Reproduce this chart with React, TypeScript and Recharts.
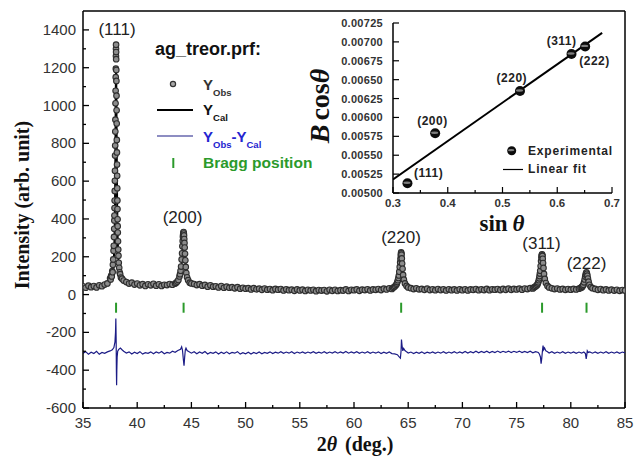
import React from 'react';
import { ComposedChart, Scatter, Line, XAxis, YAxis, ReferenceLine } from 'recharts';

const SANS = '"Liberation Sans", Arial, sans-serif';
const SERIF = '"Liberation Serif", "Times New Roman", serif';

// ---------- main pattern: observed intensity (2theta, counts) ----------
const obsRegion111: [number, number][] = [
  [35.00,44],[35.25,36],[35.50,47],[35.75,39],[36.00,45],[36.25,38],[36.50,49],[36.75,44],[37.00,53],[37.25,59],
  [37.50,86],[37.55,80],[37.60,101],[37.65,96],[37.70,124],[37.73,118],[37.76,158],[37.79,186],[37.82,232],[37.84,258],
  [37.86,305],[37.88,348],[37.89,392],[37.90,418],[37.91,458],[37.92,497],[37.93,548],[37.94,602],[37.95,655],[37.96,735],
  [37.97,788],[37.98,862],[37.99,925],[38.00,1012],[38.01,1078],[38.02,1150],[38.03,1195],[38.04,1262],[38.045,1300],[38.05,1322],
  [38.055,1283],[38.06,1245],[38.07,1188],[38.08,1130],[38.09,1052],[38.10,975],[38.11,905],[38.12,818],[38.13,752],[38.14,688],
  [38.15,628],[38.16,562],[38.17,498],[38.18,452],[38.19,398],[38.20,362],[38.21,328],[38.23,282],[38.25,238],[38.27,206],
  [38.30,168],[38.34,142],[38.38,118],[38.43,108],[38.50,90],[38.60,84],[38.75,74],
  [39.00,66],[39.25,58],[39.50,63],[39.75,53],[40.00,58],[40.25,49],[40.50,55],[40.75,46],[41.00,54],[41.25,49],
  [41.50,57],[41.75,47],[42.00,54],[42.25,46],[42.50,52],[42.75,50],[43.00,56],[43.25,52],
];
const obsRegion200: [number, number][] = [
  [43.50,58],[43.60,62],[43.70,69],[43.80,77],[43.90,96],[43.95,108],[44.00,126],[44.05,148],[44.10,186],[44.14,218],
  [44.17,256],[44.20,284],[44.22,306],[44.24,317],[44.26,327],[44.28,331],[44.30,323],[44.32,313],[44.34,294],[44.36,273],
  [44.38,249],[44.41,216],[44.44,181],[44.48,146],[44.53,114],[44.60,91],[44.70,76],[44.85,63],[45.00,59],
];
const obsMidLow: [number, number][] = [
  [45.25,56],[45.50,50],[45.75,55],[46.00,47],[46.25,51],[46.50,42],[46.75,49],[47.00,42],[47.25,44],[47.50,38],
  [47.75,45],[48.00,36],[48.25,42],[48.50,36],[48.75,39],[49.00,33],[49.25,39],[49.50,31],[49.75,36],[50.00,31],
  [50.25,34],[50.50,27],[50.75,34],[51.00,28],[51.25,31],[51.50,25],[51.75,32],[52.00,26],[52.25,29],[52.50,23],
  [52.75,30],[53.00,26],[53.25,29],[53.50,22],[53.75,28],[54.00,23],[54.25,26],[54.50,20],[54.75,27],[55.00,22],
  [55.25,26],[55.50,19],[55.75,25],[56.00,22],[56.25,25],[56.50,18],[56.75,24],[57.00,21],[57.25,24],[57.50,17],
  [57.75,25],[58.00,20],[58.25,25],[58.50,19],[58.75,23],[59.00,21],[59.25,27],[59.50,19],[59.75,25],[60.00,23],
  [60.25,27],[60.50,20],[60.75,26],[61.00,24],[61.25,28],[61.50,22],[61.75,27],[62.00,25],[62.25,29],[62.50,24],
  [62.75,31],[63.00,27],[63.25,33],[63.50,30],
];
const obsRegion220: [number, number][] = [
  [63.60,36],[63.70,40],[63.80,45],[63.90,52],[63.95,58],[64.00,66],[64.05,76],[64.10,88],[64.14,101],[64.18,121],
  [64.22,146],[64.26,171],[64.29,189],[64.32,207],[64.34,216],[64.35,223],[64.36,218],[64.38,211],[64.41,191],[64.44,164],
  [64.48,136],[64.53,104],[64.60,79],[64.70,59],[64.85,46],[65.00,38],
];
const obsMidHigh: [number, number][] = [
  [65.25,34],[65.50,29],[65.75,33],[66.00,28],[66.25,30],[66.50,25],[66.75,31],[67.00,24],[67.25,28],[67.50,23],
  [67.75,29],[68.00,24],[68.25,28],[68.50,22],[68.75,28],[69.00,23],[69.25,27],[69.50,22],[69.75,28],[70.00,23],
  [70.25,28],[70.50,22],[70.75,27],[71.00,25],[71.25,29],[71.50,23],[71.75,28],[72.00,24],[72.25,30],[72.50,23],
  [72.75,28],[73.00,26],[73.25,29],[73.50,24],[73.75,30],[74.00,25],[74.25,31],[74.50,25],[74.75,30],[75.00,27],
  [75.25,31],[75.50,26],[75.75,32],[76.00,29],[76.25,34],[76.50,32],
];
const obsRegion311: [number, number][] = [
  [76.60,38],[76.70,41],[76.80,46],[76.90,51],[76.95,58],[77.00,65],[77.05,76],[77.09,86],[77.12,98],[77.15,111],
  [77.18,126],[77.22,151],[77.26,177],[77.29,196],[77.32,206],[77.34,210],[77.35,213],[77.37,208],[77.38,204],[77.41,189],
  [77.44,167],[77.48,141],[77.53,109],[77.60,83],[77.70,61],[77.85,46],[78.00,38],
  [78.25,33],[78.50,29],[78.75,32],[79.00,27],[79.25,30],[79.50,25],[79.75,29],[80.00,26],[80.25,30],[80.50,27],[80.75,31],
];
const obsRegion222: [number, number][] = [
  [80.90,35],[81.00,38],[81.05,42],[81.10,46],[81.15,52],[81.22,65],[81.28,80],[81.33,95],[81.37,106],[81.41,114],
  [81.45,117],[81.49,110],[81.53,100],[81.58,85],[81.64,68],[81.72,52],[81.85,40],[82.00,34],
  [82.25,30],[82.50,25],[82.75,29],[83.00,23],[83.25,27],[83.50,22],[83.75,26],[84.00,21],[84.25,25],[84.50,20],[84.75,24],[85.00,21],
];

// ---------- calculated profile ----------
const calcProfile: [number, number][] = [
  [35,37],[36,39],[37,46],[37.5,66],[37.7,100],[37.8,145],[37.85,195],[37.9,285],[37.95,470],[37.98,690],[38.0,870],
  [38.02,1050],[38.04,1165],[38.05,1190],[38.06,1168],[38.08,1045],[38.1,880],[38.12,700],[38.15,480],[38.2,300],[38.25,200],
  [38.3,150],[38.4,105],[38.6,76],[39.0,58],[40,50],[41,46],[42,45],[43,48],[43.5,52],[43.8,68],[44.0,108],[44.1,165],
  [44.2,265],[44.28,318],[44.35,268],[44.45,170],[44.55,110],[44.75,70],[45,55],[46,42],[47,36],[48,32],[50,26],[52,22],
  [55,18],[58,17],[60,18],[62,21],[63.5,27],[63.9,42],[64.1,78],[64.2,112],[64.3,148],[64.35,156],[64.4,146],[64.5,108],
  [64.6,74],[64.8,44],[65.2,30],[66,25],[68,21],[70,20],[72,21],[74,22],[76,25],[76.5,29],[76.9,46],[77.1,84],[77.2,124],
  [77.3,166],[77.35,174],[77.4,164],[77.5,120],[77.6,82],[77.8,48],[78.2,31],[79,25],[80,23],[80.8,26],[81.1,39],[81.25,59],
  [81.35,77],[81.45,84],[81.55,74],[81.65,55],[81.8,38],[82.1,27],[83,22],[85,19],
];

// ---------- difference Yobs - Ycal (offset) ----------
const diffLow: [number, number][] = [
  [35.00,-310],[35.25,-302],[35.50,-315],[35.75,-305],[36.00,-312],[36.25,-300],[36.50,-316],[36.75,-306],[37.00,-311],[37.25,-303],
  [37.50,-298],[37.70,-292],[37.85,-280],[37.95,-250],[38.00,-200],[38.03,-127],[38.06,-250],[38.08,-400],[38.10,-480],[38.12,-400],
  [38.15,-330],[38.20,-300],[38.30,-290],[38.45,-283],[38.60,-292],[38.75,-300],[39.00,-309],[39.25,-303],[39.50,-314],[39.75,-305],
  [40.00,-312],[40.25,-302],[40.50,-315],[40.75,-307],[41.00,-311],[41.25,-303],[41.50,-313],[41.75,-304],[42.00,-310],[42.25,-301],
  [42.50,-313],[42.75,-306],[43.00,-310],[43.25,-300],[43.50,-305],[43.75,-296],[44.00,-289],[44.10,-276],[44.18,-295],[44.26,-345],
  [44.32,-376],[44.38,-330],[44.44,-292],[44.50,-283],[44.60,-296],[44.75,-301],[45.00,-310],[45.25,-302],[45.50,-313],[45.75,-304],
  [46.00,-311],[46.25,-301],[46.50,-314],[46.75,-306],[47.00,-311],[47.25,-303],[47.50,-314],[47.75,-305],[48.00,-312],[48.25,-303],
  [48.50,-313],[48.75,-306],[49.00,-310],[49.25,-302],[49.50,-315],[49.75,-307],[50.00,-313],[50.25,-305],[50.50,-314],[50.75,-306],
  [51.00,-312],[51.25,-304],[51.50,-313],[51.75,-306],[52.00,-311],[52.25,-303],[52.50,-312],[52.75,-305],[53.00,-310],[53.25,-302],
  [53.50,-311],[53.75,-304],[54.00,-310],[54.25,-302],[54.50,-312],[54.75,-304],[55.00,-310],[55.25,-303],[55.50,-311],[55.75,-304],
  [56.00,-309],[56.25,-302],[56.50,-311],[56.75,-305],[57.00,-310],[57.25,-302],[57.50,-311],[57.75,-304],[58.00,-309],[58.25,-302],
  [58.50,-310],[58.75,-303],[59.00,-309],[59.25,-301],[59.50,-310],[59.75,-303],[60.00,-309],[60.25,-302],[60.50,-311],[60.75,-304],
  [61.00,-310],[61.25,-302],[61.50,-311],[61.75,-304],[62.00,-310],[62.25,-303],[62.50,-312],[62.75,-305],[63.00,-311],[63.25,-304],
];
const diffHigh: [number, number][] = [
  [63.50,-312],[63.75,-314],[64.00,-318],[64.15,-328],[64.28,-336],[64.34,-300],[64.38,-238],[64.43,-268],[64.50,-298],[64.58,-285],
  [64.70,-296],[64.85,-303],[65.00,-309],[65.25,-304],[65.50,-312],[65.75,-305],[66.00,-311],[66.25,-303],[66.50,-312],[66.75,-305],
  [67.00,-310],[67.25,-303],[67.50,-311],[67.75,-304],[68.00,-310],[68.25,-302],[68.50,-311],[68.75,-304],[69.00,-309],[69.25,-302],
  [69.50,-310],[69.75,-303],[70.00,-309],[70.25,-301],[70.50,-309],[70.75,-302],[71.00,-308],[71.25,-300],[71.50,-308],[71.75,-301],
  [72.00,-307],[72.25,-300],[72.50,-308],[72.75,-301],[73.00,-307],[73.25,-299],[73.50,-307],[73.75,-300],[74.00,-306],[74.25,-299],
  [74.50,-307],[74.75,-300],[75.00,-306],[75.25,-299],[75.50,-307],[75.75,-301],[76.00,-307],[76.25,-300],[76.50,-308],[76.75,-302],
  [77.00,-306],[77.10,-314],[77.20,-330],[77.26,-365],[77.32,-338],[77.38,-300],[77.44,-270],[77.50,-292],[77.58,-282],[77.70,-298],
  [77.85,-302],[78.00,-309],[78.25,-302],[78.50,-311],[78.75,-304],[79.00,-310],[79.25,-302],[79.50,-311],[79.75,-304],[80.00,-310],
  [80.25,-303],[80.50,-311],[80.75,-304],[81.00,-310],[81.20,-304],[81.35,-312],[81.42,-340],[81.47,-322],[81.52,-298],[81.60,-306],
  [81.75,-303],[82.00,-310],[82.25,-303],[82.50,-311],[82.75,-304],[83.00,-310],[83.25,-302],[83.50,-311],[83.75,-304],[84.00,-310],
  [84.25,-303],[84.50,-311],[84.75,-304],[85.00,-309],
];

// ---------- Bragg positions and peak labels ----------
const braggPositions = [38.05, 44.28, 64.35, 77.35, 81.45];
const braggTickTop = -43;
const braggTickBottom = -96;
const peakLabelNames = ['(111)', '(200)', '(220)', '(311)', '(222)'];
const peakLabelX = [38.14, 44.18, 64.34, 77.3, 81.45];
const peakLabelY = [1405, 410, 305, 273, 167];

// ---------- main axis ticks ----------
const mainXMajor = [35, 40, 45, 50, 55, 60, 65, 70, 75, 80, 85];
const mainXMinor = [37.5, 42.5, 47.5, 52.5, 57.5, 62.5, 67.5, 72.5, 77.5, 82.5];
const mainYMajor = [-600, -400, -200, 0, 200, 400, 600, 800, 1000, 1200, 1400];
const mainYMinor = [-500, -300, -100, 100, 300, 500, 700, 900, 1100, 1300];

// ---------- inset: Williamson-Hall ----------
const whSinTheta = [0.3264, 0.377, 0.532, 0.626, 0.651];
const whBcos = [0.00513, 0.00579, 0.00635, 0.00684, 0.00694];
const whNames = ['(111)', '(200)', '(220)', '(311)', '(222)'];
const whLabelX = [0.365, 0.372, 0.517, 0.608, 0.668];
const whLabelY = [0.00526, 0.00595, 0.006523, 0.007015, 0.00675];
const fitEnds: [number, number][] = [[0.3, 0.00518], [0.682, 0.00712]];
const insetXMajor = [0.3, 0.4, 0.5, 0.6, 0.7];
const insetXMinor = [0.35, 0.45, 0.55, 0.65];
const insetYTicks = [0.005, 0.00525, 0.0055, 0.00575, 0.006, 0.00625, 0.0065, 0.00675, 0.007, 0.00725];

// ---------- build series ----------
const toXY = (arr: [number, number][]) => arr.map(([x, y]) => ({ x, y }));
const observed = toXY([
  ...obsRegion111, ...obsRegion200, ...obsMidLow, ...obsRegion220, ...obsMidHigh, ...obsRegion311, ...obsRegion222,
]);
const calculated = toXY(calcProfile);
const difference = toXY([...diffLow, ...diffHigh]);
const peakLabels = peakLabelNames.map((label, i) => ({ x: peakLabelX[i], y: peakLabelY[i], label }));
const whPoints = whSinTheta.map((x, i) => ({ x, y: whBcos[i] }));
const whLabels = whNames.map((label, i) => ({ x: whLabelX[i], y: whLabelY[i], label }));
const fitLine = toXY(fitEnds);

const mainXTicks = [...mainXMajor, ...mainXMinor].sort((a, b) => a - b);
const mainYTicks = [...mainYMajor, ...mainYMinor].sort((a, b) => a - b);
const insetXTicks = [...insetXMajor, ...insetXMinor].sort((a, b) => a - b);

const GREEN = '#2b9a2b';
const NAVY = '#1c1c86';

function MainXTick(props: any) {
  const { x, y, payload } = props;
  const v = payload.value;
  const major = mainXMajor.includes(v);
  return (
    <g>
      <line x1={x} x2={x} y1={y} y2={y - (major ? 6 : 3)} stroke="#000" strokeWidth={1.3} />
      {major && (
        <text x={x} y={y + 20} textAnchor="middle" fontFamily={SANS} fontSize={15} fill="#333">{v}</text>
      )}
    </g>
  );
}

function MainYTick(props: any) {
  const { x, y, payload } = props;
  const v = payload.value;
  const major = mainYMajor.includes(v);
  return (
    <g>
      <line x1={x} x2={x + (major ? 6 : 3)} y1={y} y2={y} stroke="#000" strokeWidth={1.3} />
      {major && (
        <text x={x - 7} y={y + 5} textAnchor="end" fontFamily={SANS} fontSize={15} fill="#333">{v}</text>
      )}
    </g>
  );
}

function InsetXTick(props: any) {
  const { x, y, payload } = props;
  const v = payload.value;
  const major = insetXMajor.includes(v);
  return (
    <g>
      <line x1={x} x2={x} y1={y} y2={y - (major ? 6 : 3)} stroke="#000" strokeWidth={1.2} />
      {major && (
        <text x={x} y={y + 14} textAnchor="middle" fontFamily={SANS} fontWeight="bold" fontSize={11.5} fill="#333">{v.toFixed(1)}</text>
      )}
    </g>
  );
}

function InsetYTick(props: any) {
  const { x, y, payload } = props;
  const v = payload.value;
  return (
    <g>
      <line x1={x} x2={x + 6} y1={y} y2={y} stroke="#000" strokeWidth={1.2} />
      <text x={x - 10} y={y + 4} textAnchor="end" fontFamily={SANS} fontWeight="bold" fontSize={11} letterSpacing={0.3} fill="#333">{v.toFixed(5)}</text>
    </g>
  );
}

const ObsCircle = (p: any) => (
  <circle cx={p.cx} cy={p.cy} r={2.8} fill="#8c8c8c" stroke="#2e2e2e" strokeWidth={1.1} />
);

const PeakLabel = (p: any) => (
  <text x={p.cx} y={p.cy + 6} textAnchor="middle" fontFamily={SANS} fontSize={17} fill="#222">{p.payload.label}</text>
);

const Sphere = (p: any) => (
  <g>
    <circle cx={p.cx} cy={p.cy} r={5} fill="#0c0c0c" />
    <ellipse cx={p.cx - 0.5} cy={p.cy - 0.5} rx={3.6} ry={1.2} fill="#9a9a9a" opacity={0.8} />
  </g>
);

const WhLabel = (p: any) => (
  <text x={p.cx} y={p.cy + 4} textAnchor="middle" fontFamily={SANS} fontWeight="bold" fontSize={12} letterSpacing={0.5} fill="#222">{p.payload.label}</text>
);

export default function App() {
  return (
    <div style={{ position: 'absolute', left: 0, top: 0, width: 635, height: 458, background: '#fff' }}>
      <div style={{ position: 'absolute', left: 0, top: 0 }}>
        <ComposedChart width={635} height={458} margin={{ top: 11, right: 10, bottom: 0, left: 0 }}>
          <XAxis
            dataKey="x" type="number" domain={[35, 85]} ticks={mainXTicks} interval={0} height={50}
            tickSize={0} tickMargin={0} tickLine={false} tick={MainXTick}
            axisLine={{ stroke: '#000', strokeWidth: 1.5 }} allowDataOverflow
          />
          <YAxis
            type="number" domain={[-600, 1500]} ticks={mainYTicks} interval={0} width={83}
            tickSize={0} tickMargin={0} tickLine={false} tick={MainYTick}
            axisLine={{ stroke: '#000', strokeWidth: 1.5 }} allowDataOverflow
          />
          <ReferenceLine y={1500} stroke="#000" strokeWidth={1.5} />
          <ReferenceLine x={85} stroke="#000" strokeWidth={1.5} />
          {braggPositions.map((b) => (
            <ReferenceLine key={b} segment={[{ x: b, y: braggTickTop }, { x: b, y: braggTickBottom }]} stroke={GREEN} strokeWidth={2} />
          ))}
          <Scatter data={observed} dataKey="y" shape={ObsCircle} isAnimationActive={false} />
          <Line data={calculated} dataKey="y" type="linear" stroke="#000" strokeWidth={2} dot={false} isAnimationActive={false} />
          <Line data={difference} dataKey="y" type="linear" stroke={NAVY} strokeWidth={1.2} dot={false} isAnimationActive={false} />
          <Scatter data={peakLabels} dataKey="y" shape={PeakLabel} isAnimationActive={false} />
        </ComposedChart>
      </div>

      <div style={{ position: 'absolute', left: 300, top: 0 }}>
        <ComposedChart width={335} height={240} margin={{ top: 23, right: 23, bottom: 0, left: 0 }}>
          <XAxis
            dataKey="x" type="number" domain={[0.3, 0.7]} ticks={insetXTicks} interval={0} height={47}
            tickSize={0} tickMargin={0} tickLine={false} tick={InsetXTick}
            axisLine={{ stroke: '#000', strokeWidth: 1.5 }} allowDataOverflow
          />
          <YAxis
            type="number" domain={[0.005, 0.00725]} ticks={insetYTicks} interval={0} width={93}
            tickSize={0} tickMargin={0} tickLine={false} tick={InsetYTick}
            axisLine={{ stroke: '#000', strokeWidth: 1.5 }} allowDataOverflow
          />
          <Line data={fitLine} dataKey="y" type="linear" stroke="#000" strokeWidth={2} dot={false} isAnimationActive={false} />
          <Scatter data={whPoints} dataKey="y" shape={Sphere} isAnimationActive={false} />
          <Scatter data={whLabels} dataKey="y" shape={WhLabel} isAnimationActive={false} />
        </ComposedChart>
      </div>

      <svg width={635} height={458} style={{ position: 'absolute', left: 0, top: 0, pointerEvents: 'none' }}>
        {/* main legend */}
        <text x={155} y={55} fontFamily={SANS} fontWeight="bold" fontSize={18} fill="#111">ag_treor.prf:</text>
        <circle cx={173} cy={84} r={2.6} fill="#a8a8a8" stroke="#333" strokeWidth={1.2} />
        <text x={203} y={90} fontFamily={SANS} fontWeight="bold" fontSize={15} fill="#333">
          Y<tspan fontSize={9.5} dy={6}>Obs</tspan>
        </text>
        <line x1={157} x2={193} y1={110} y2={110} stroke="#000" strokeWidth={2} />
        <text x={203} y={115} fontFamily={SANS} fontWeight="bold" fontSize={15} fill="#111">
          Y<tspan fontSize={9.5} dy={6}>Cal</tspan>
        </text>
        <line x1={157} x2={193} y1={136} y2={136} stroke={NAVY} strokeWidth={1.2} />
        <text x={203} y={142} fontFamily={SANS} fontWeight="bold" fontSize={15} fill="#2424d0">
          Y<tspan fontSize={9.5} dy={6}>Obs</tspan><tspan dy={-6}>-Y</tspan><tspan fontSize={9.5} dy={6}>Cal</tspan>
        </text>
        <line x1={173.3} x2={173.3} y1={158} y2={168} stroke={GREEN} strokeWidth={2} />
        <text x={203} y={168} fontFamily={SANS} fontWeight="bold" fontSize={15.5} fill={GREEN}>Bragg position</text>

        {/* main axis titles */}
        <text x={29} y={205} transform="rotate(-90, 29, 205)" textAnchor="middle" fontFamily={SERIF} fontWeight="bold" fontSize={20} fill="#111">
          Intensity (arb. unit)
        </text>
        <text x={355} y={451} textAnchor="middle" fontFamily={SERIF} fontWeight="bold" fontSize={20} fill="#111">
          2<tspan fontStyle="italic">θ</tspan><tspan dx={8}>(deg.)</tspan>
        </text>

        {/* inset titles */}
        <text x={329} y={106} transform="rotate(-90, 329, 106)" textAnchor="middle" fontFamily={SERIF} fontWeight="bold" fontSize={28} fill="#111">
          <tspan fontStyle="italic">B</tspan><tspan dx={4}>cos</tspan><tspan fontStyle="italic">θ</tspan>
        </text>
        <text x={502} y={231} textAnchor="middle" fontFamily={SERIF} fontWeight="bold" fontSize={23} fill="#111">
          sin<tspan dx={5} fontStyle="italic">θ</tspan>
        </text>

        {/* inset legend */}
        <circle cx={511.7} cy={150.7} r={4.5} fill="#0c0c0c" />
        <ellipse cx={511.2} cy={150.2} rx={3.2} ry={1.1} fill="#9a9a9a" opacity={0.8} />
        <text x={528} y={154.5} fontFamily={SANS} fontWeight="bold" fontSize={12} letterSpacing={0.8} fill="#222">Experimental</text>
        <line x1={503} x2={523} y1={169.5} y2={169.5} stroke="#000" strokeWidth={1.2} />
        <text x={528} y={173} fontFamily={SANS} fontWeight="bold" fontSize={12} letterSpacing={0.8} fill="#222">Linear fit</text>
      </svg>
    </div>
  );
}
